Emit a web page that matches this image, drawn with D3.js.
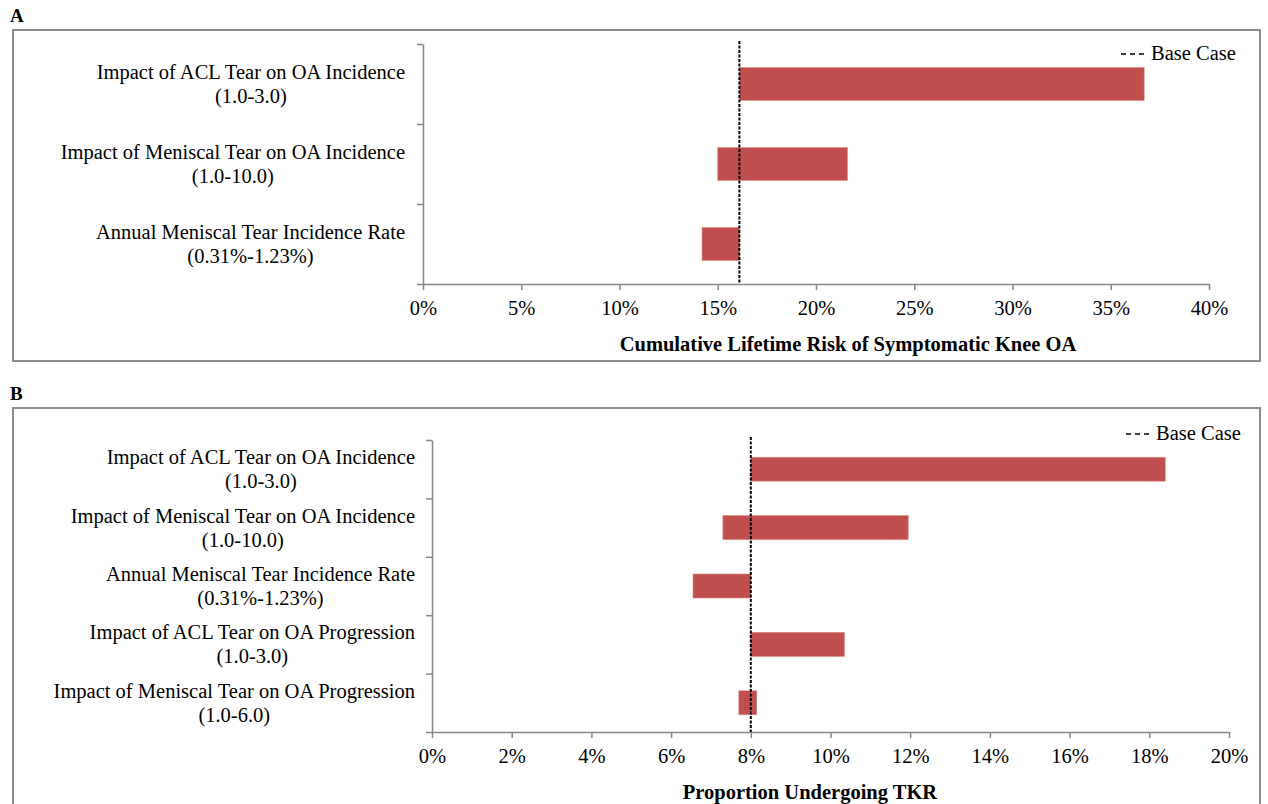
<!DOCTYPE html>
<html>
<head>
<meta charset="utf-8">
<script src="https://cdn.jsdelivr.net/npm/d3@7"></script>
<style>
  body { margin: 0; background: #fff; }
  svg { display: block; font-family: "Liberation Serif", "Times New Roman", serif; }
  .axis path, .axis line { stroke: #868686; stroke-width: 1.5; }
  .axis text { font-size: 20.5px; fill: #000; font-family: "Liberation Serif", serif; }
</style>
</head>
<body>
<svg id="chart" width="1268" height="804"></svg>
<script>
// panel A data
const labelsA = [
  ["Impact of ACL Tear on OA Incidence", "(1.0-3.0)"],
  ["Impact of Meniscal Tear on OA Incidence", "(1.0-10.0)"],
  ["Annual Meniscal Tear Incidence Rate", "(0.31%-1.23%)"]
];
const lowA = [16.1, 15.0, 14.2];
const highA = [36.7, 21.6, 16.1];
const baseA = 16.1;
const ticksA = [0, 5, 10, 15, 20, 25, 30, 35, 40];

// panel B data
const labelsB = [
  ["Impact of ACL Tear on OA Incidence", "(1.0-3.0)"],
  ["Impact of Meniscal Tear on OA Incidence", "(1.0-10.0)"],
  ["Annual Meniscal Tear Incidence Rate", "(0.31%-1.23%)"],
  ["Impact of ACL Tear on OA Progression", "(1.0-3.0)"],
  ["Impact of Meniscal Tear on OA Progression", "(1.0-6.0)"]
];
const lowB = [8.0, 7.3, 6.55, 8.0, 7.7];
const highB = [18.4, 11.95, 8.0, 10.35, 8.15];
const baseB = 8.0;
const ticksB = [0, 2, 4, 6, 8, 10, 12, 14, 16, 18, 20];

const svg = d3.select('#chart');

function drawPanel(cfg) {
  // frame and panel letter
  svg.append('rect')
    .attr('x', 13).attr('y', cfg.boxTop)
    .attr('width', 1247).attr('height', cfg.boxH)
    .attr('fill', 'none').attr('stroke', '#8c8c8c').attr('stroke-width', 2);
  svg.append('text')
    .attr('x', 10).attr('y', cfg.boxTop - 8)
    .style('font-size', '19px').style('font-weight', 'bold')
    .text(cfg.letter);

  const n = cfg.labels.length;
  const x = d3.scaleLinear().domain([0, d3.max(cfg.ticks)]).range([cfg.left, cfg.right]);
  const yIdx = d3.scaleLinear().domain([0, n]).range([cfg.top, cfg.bottom]);
  const y = d3.scaleBand().domain(d3.range(n)).range([cfg.top, cfg.bottom]).padding(0);
  const barH = y.bandwidth() * 0.41;

  const g = svg.append('g');

  // bars
  g.selectAll('rect.bar')
    .data(d3.range(n))
    .enter().append('rect')
    .attr('class', 'bar')
    .attr('x', i => x(cfg.low[i]))
    .attr('width', i => x(cfg.high[i]) - x(cfg.low[i]))
    .attr('y', i => y(i) + (y.bandwidth() - barH) / 2)
    .attr('height', barH)
    .attr('fill', '#C0504D')
    .attr('stroke', '#d9827f').attr('stroke-width', 0.6);

  // axes
  g.append('g')
    .attr('class', 'axis')
    .attr('transform', 'translate(0,' + cfg.bottom + ')')
    .call(d3.axisBottom(x).tickValues(cfg.ticks).tickFormat(d => d + '%').tickSize(6).tickSizeOuter(0).tickPadding(10));
  g.append('g')
    .attr('class', 'axis')
    .attr('transform', 'translate(' + cfg.left + ',0)')
    .call(d3.axisLeft(yIdx).tickValues(d3.range(n + 1)).tickFormat('').tickSize(6).tickSizeOuter(0));

  // base case line
  g.append('line')
    .attr('x1', x(cfg.base)).attr('x2', x(cfg.base))
    .attr('y1', cfg.top - 3).attr('y2', cfg.bottom)
    .attr('stroke', '#000').attr('stroke-width', 2)
    .attr('stroke-dasharray', '3,1.5');

  // category labels: block right aligned, lines centered
  cfg.labels.forEach((lines, i) => {
    const cy = y(i) + y.bandwidth() / 2;
    const t = g.append('text').style('font-size', '20.5px').attr('text-anchor', 'middle');
    t.append('tspan').attr('y', cy - 5).text(lines[0]);
    t.append('tspan').attr('y', cy + 19).text(lines[1]);
    const w = d3.max(t.selectAll('tspan').nodes(), nd => nd.getComputedTextLength());
    t.selectAll('tspan').attr('x', cfg.left - cfg.labelGap - w / 2);
  });

  // axis title
  g.append('text')
    .attr('x', cfg.titleX).attr('y', cfg.titleY)
    .attr('text-anchor', 'middle')
    .style('font-size', '20.5px').style('font-weight', 'bold')
    .text(cfg.title);

  // legend
  const lg = g.append('g').attr('transform', 'translate(' + cfg.legendX + ',' + cfg.legendY + ')');
  lg.append('line')
    .attr('x1', 0).attr('x2', 24).attr('y1', 0).attr('y2', 0)
    .attr('stroke', '#000').attr('stroke-width', 1.5)
    .attr('stroke-dasharray', '5,4');
  lg.append('text')
    .attr('x', 30).attr('y', 6)
    .style('font-size', '20.5px')
    .text('Base Case');
}

drawPanel({
  letter: 'A', boxTop: 30, boxH: 331,
  labels: labelsA, low: lowA, high: highA, base: baseA, ticks: ticksA,
  left: 423, right: 1209, top: 44, bottom: 284, labelGap: 18,
  title: 'Cumulative Lifetime Risk of Symptomatic Knee OA', titleX: 848, titleY: 351,
  legendX: 1121, legendY: 54
});

drawPanel({
  letter: 'B', boxTop: 408, boxH: 430,
  labels: labelsB, low: lowB, high: highB, base: baseB, ticks: ticksB,
  left: 432, right: 1229, top: 440, bottom: 732, labelGap: 17,
  title: 'Proportion Undergoing TKR', titleX: 810, titleY: 799,
  legendX: 1126, legendY: 434
});
</script>
</body>
</html>
